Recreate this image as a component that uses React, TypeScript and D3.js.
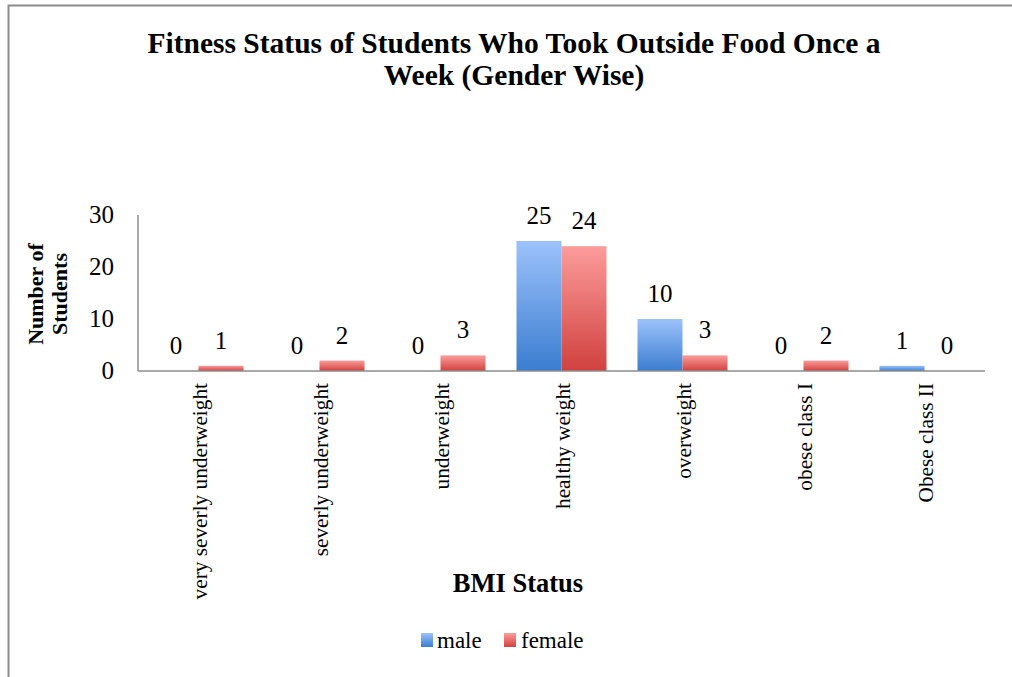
import React from "react";
import * as d3 from "d3";

const categories = [
  "very severly underweight",
  "severly underweight",
  "underweight",
  "healthy weight",
  "overweight",
  "obese class I",
  "Obese class II",
];
const maleValues = [0, 0, 0, 25, 10, 0, 1];
const femaleValues = [1, 2, 3, 24, 3, 2, 0];
const yTicks = [0, 10, 20, 30];
const seriesNames = ["male", "female"];

const W = 1012;
const H = 677;
const left = 138;
const right = 985;
const top = 215;
const bottom = 371;
const font = "'Liberation Serif', 'Times New Roman', serif";

export default function App() {
  const x = d3.scaleBand<string>().domain(categories).range([left, right]).paddingInner(0.256).paddingOuter(0.128);
  const xs = d3.scaleBand<string>().domain(seriesNames).range([0, x.bandwidth()]);
  const y = d3.scaleLinear().domain([0, 30]).range([bottom, top]);
  const series = [maleValues, femaleValues];
  const fills = ["url(#gMale)", "url(#gFemale)"];

  return (
    <svg width={W} height={H} style={{ position: "absolute", left: 0, top: 0, background: "#fff" }} fontFamily={font}>
      <defs>
        <linearGradient id="gMale" x1="0" y1="0" x2="0" y2="1">
          <stop offset="0" stopColor="#9cc2fb" />
          <stop offset="1" stopColor="#3b7dd0" />
        </linearGradient>
        <linearGradient id="gFemale" x1="0" y1="0" x2="0" y2="1">
          <stop offset="0" stopColor="#fc9c9b" />
          <stop offset="1" stopColor="#d0413e" />
        </linearGradient>
      </defs>
      <rect x={8.5} y={5.5} width={W + 20} height={H + 20} fill="none" stroke="#8c8c8c" strokeWidth={2} />
      <text x={514} y={53} textAnchor="middle" fontSize={29.5} fontWeight="bold">
        Fitness Status of Students Who Took Outside Food Once a
      </text>
      <text x={514} y={85} textAnchor="middle" fontSize={29.5} fontWeight="bold">
        Week (Gender Wise)
      </text>
      <g transform="translate(0,294) rotate(-90)" fontSize={22} fontWeight="bold" textAnchor="middle">
        <text x={0} y={43}>Number of</text>
        <text x={0} y={67}>Students</text>
      </g>
      {yTicks.map((t) => (
        <text key={t} x={114} y={y(t) + 8} textAnchor="end" fontSize={25}>
          {t}
        </text>
      ))}
      {categories.map((c, i) => (
        <g key={c}>
          {series.map((vals, s) => {
            const bx = (x(c) as number) + (xs(seriesNames[s]) as number);
            const bw = xs.bandwidth();
            const v = vals[i];
            return (
              <g key={s}>
                {v > 0 && (
                  <rect x={bx} y={y(v)} width={bw} height={bottom - y(v)} fill={fills[s]} />
                )}
                <text x={bx + bw / 2} y={y(v) - 17} textAnchor="middle" fontSize={25}>
                  {v}
                </text>
              </g>
            );
          })}
          <text
            transform={`translate(${(x(c) as number) + x.bandwidth() / 2 + 8},383) rotate(-90)`}
            textAnchor="end"
            fontSize={21.3}
          >
            {c}
          </text>
        </g>
      ))}
      <line x1={left} y1={top} x2={left} y2={bottom} stroke="#8c8c8c" strokeWidth={1.5} />
      <line x1={left} y1={bottom} x2={right} y2={bottom} stroke="#8c8c8c" strokeWidth={1.5} />
      <text x={518} y={592} textAnchor="middle" fontSize={26.5} fontWeight="bold">
        BMI Status
      </text>
      <g fontSize={23}>
        <rect x={421} y={633} width={12} height={14} fill="url(#gMale)" />
        <text x={437} y={648}>male</text>
        <rect x={504} y={633} width={12} height={14} fill="url(#gFemale)" />
        <text x={521} y={648}>female</text>
      </g>
    </svg>
  );
}
